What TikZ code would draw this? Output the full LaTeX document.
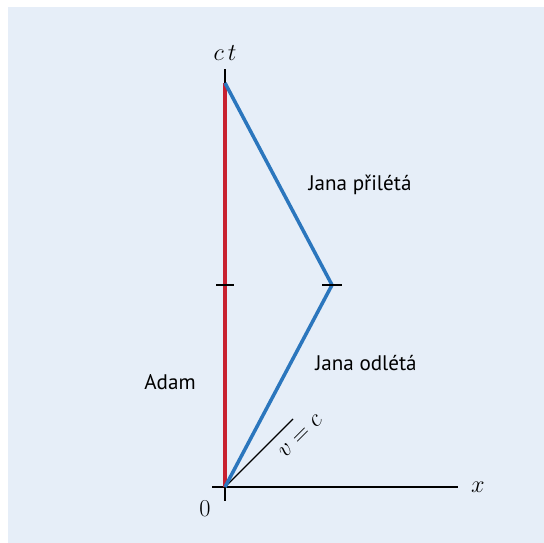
\documentclass[tikz,border=0pt]{standalone}
\usepackage{fontspec}
\newfontfamily\labelfont{PT Sans}
\usetikzlibrary{positioning}
\definecolor{panelbg}{HTML}{E6EEF8}
\definecolor{adamred}{HTML}{C8202F}
\definecolor{janablue}{HTML}{2B76BD}

\begin{document}
\begin{tikzpicture}[
  font=\fontsize{17}{20}\selectfont,
  worldline/.style={line width=2.5pt},
  axisline/.style={line width=1.1pt},
  lightline/.style={line width=0.8pt},
  tickmark/.style={line width=1pt},
  caption/.style={font=\labelfont\fontsize{15}{18}\selectfont}
]
\useasboundingbox (0,0) rectangle (13.6,13.575);
\fill[panelbg] (0.2,0) rectangle (13.6,13.4);

% points of the diagram
\coordinate (origin) at (5.625,1.4);
\coordinate (xstart) at (5.3,1.4);
\coordinate (xend) at (11.45,1.4);
\coordinate (ctop) at (5.625,11.85);
\coordinate (odown) at (5.625,1.05);
\coordinate (meet) at (5.625,11.5);
\coordinate (half) at (5.625,6.45);
\coordinate (turn) at (8.3,6.45);
\coordinate (light) at (7.325,3.1);

% axes
\draw[axisline] (xstart) -- (xend);
\draw[axisline] (odown) -- (ctop);
\node (xlabel) at (11.95,1.4) {$x$};
\node (ctlabel) at (5.625,12.25) {$c\,t$};
\node (zero) at (5.125,0.85) {$0$};

% light line
\draw[lightline] (origin) -- (light) node[sloped, below=0.18cm, pos=0.93] (vclabel) {$v=c$};

% world lines
\draw[worldline, adamred] (origin) -- (meet);
\draw[worldline, janablue, line join=miter] (origin) -- (turn) -- (meet);

% ticks
\draw[tickmark] ([xshift=-0.225cm]half) -- ([xshift=0.225cm]half);
\draw[tickmark] ([xshift=-0.25cm]turn) -- ([xshift=0.25cm]turn);

% labels
\node[caption] (adam) at (4.25,4.025) {Adam};
\node[caption] (back) at (9.0,8.95) {Jana přilétá};
\node[caption] (away) at (9.15,4.5) {Jana odlétá};
\end{tikzpicture}
\end{document}
